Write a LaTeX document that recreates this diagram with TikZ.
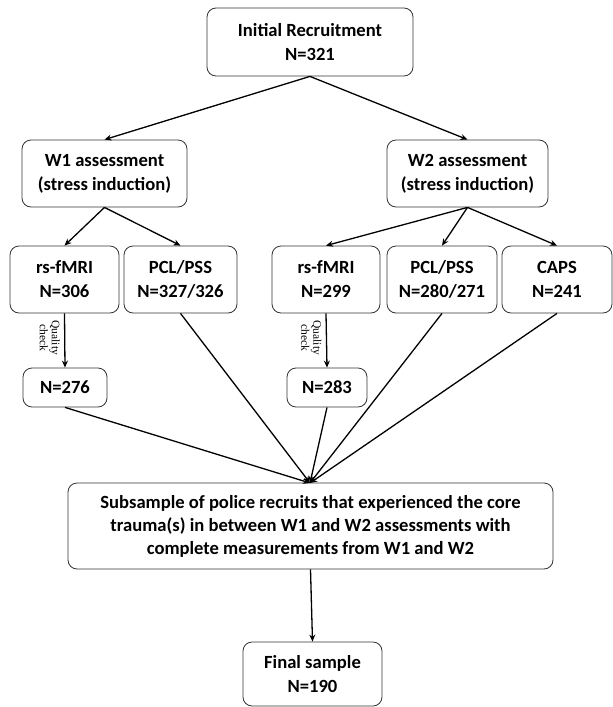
\documentclass[tikz,border=0pt]{standalone}
\usepackage{fontspec}
\setmainfont{Carlito}
\newfontfamily\qualityfont{Liberation Serif}
\usetikzlibrary{positioning,calc,arrows.meta}

\begin{document}
\begin{tikzpicture}[x=1pt,y=-1pt,
    stagebox/.style={draw=black!80, line width=0.8pt, rounded corners=9pt, align=center,
        font=\fontsize{18.6}{24}\selectfont\bfseries, inner sep=0pt},
    flow/.style={line width=1.3pt, -{Stealth[length=7pt,width=6pt]}},
    qlabel/.style={rotate=-90, anchor=north, align=center,
        font=\qualityfont\fontsize{11.5}{12}\selectfont}]
    \useasboundingbox (0,0) rectangle (613,707);
    % Recruitment and waves
    \node[stagebox, minimum width=206pt, minimum height=68pt] (init) at (310,42) {Initial Recruitment\\N=321};
    \node[stagebox, minimum width=165pt, minimum height=67pt] (w1) at (104.5,173.5) {W1 assessment\\(stress induction)};
    \node[stagebox, minimum width=161pt, minimum height=67pt] (w2) at (467.5,173.5) {W2 assessment\\(stress induction)};
    % Measures
    \foreach \n/\x/\w/\t in {rsa/64.5/109/{rs-fMRI\\N=306}, pcla/180.5/113/{PCL/PSS\\N=327/326},
        rsb/326/108/{rs-fMRI\\N=299}, pclb/442/110/{PCL/PSS\\N=280/271}, caps/557/110/{CAPS\\N=241}} {
        \node[stagebox, minimum width=\w pt, minimum height=67pt] (\n) at (\x,279.5) {\t};
    }
    \node[stagebox, minimum width=84pt, minimum height=39pt] (qa) at (65,387.5) {N=276};
    \node[stagebox, minimum width=80pt, minimum height=39pt] (qb) at (327,387.5) {N=283};
    % Subsample and final
    \node[stagebox, minimum width=485pt, minimum height=86pt, font=\fontsize{18.6}{23}\selectfont\bfseries] (sub) at (310.5,526)
        {Subsample of police recruits that experienced the core\\trauma(s) in between W1 and W2 assessments with\\complete measurements from W1 and W2};
    \node[stagebox, minimum width=139pt, minimum height=64pt] (final) at (312.5,674) {Final sample\\N=190};
    \coordinate (hub) at (310,483);

    \draw[flow] (init.south) -- (w1.north);
    \draw[flow] (init.south) -- (w2.north);
    \draw[flow] (w1.south) -- (rsa.north);
    \draw[flow] (w1.south) -- (pcla.north);
    \foreach \m in {rsb, pclb, caps}
        \draw[flow] (w2.south) -- (\m.north);
    \draw[flow] (rsa.south) -- node[qlabel, yshift=-1pt, pos=0.45] {Quality\\check} (qa.north);
    \draw[flow] (rsb.south) -- node[qlabel, yshift=-1pt, pos=0.45] {Quality\\check} (qb.north);
    \foreach \m in {qa, pcla, qb, pclb, caps}
        \draw[flow] (\m.south) -- (hub);
    \draw[flow] (sub.south) -- (final.north);
\end{tikzpicture}
\end{document}
